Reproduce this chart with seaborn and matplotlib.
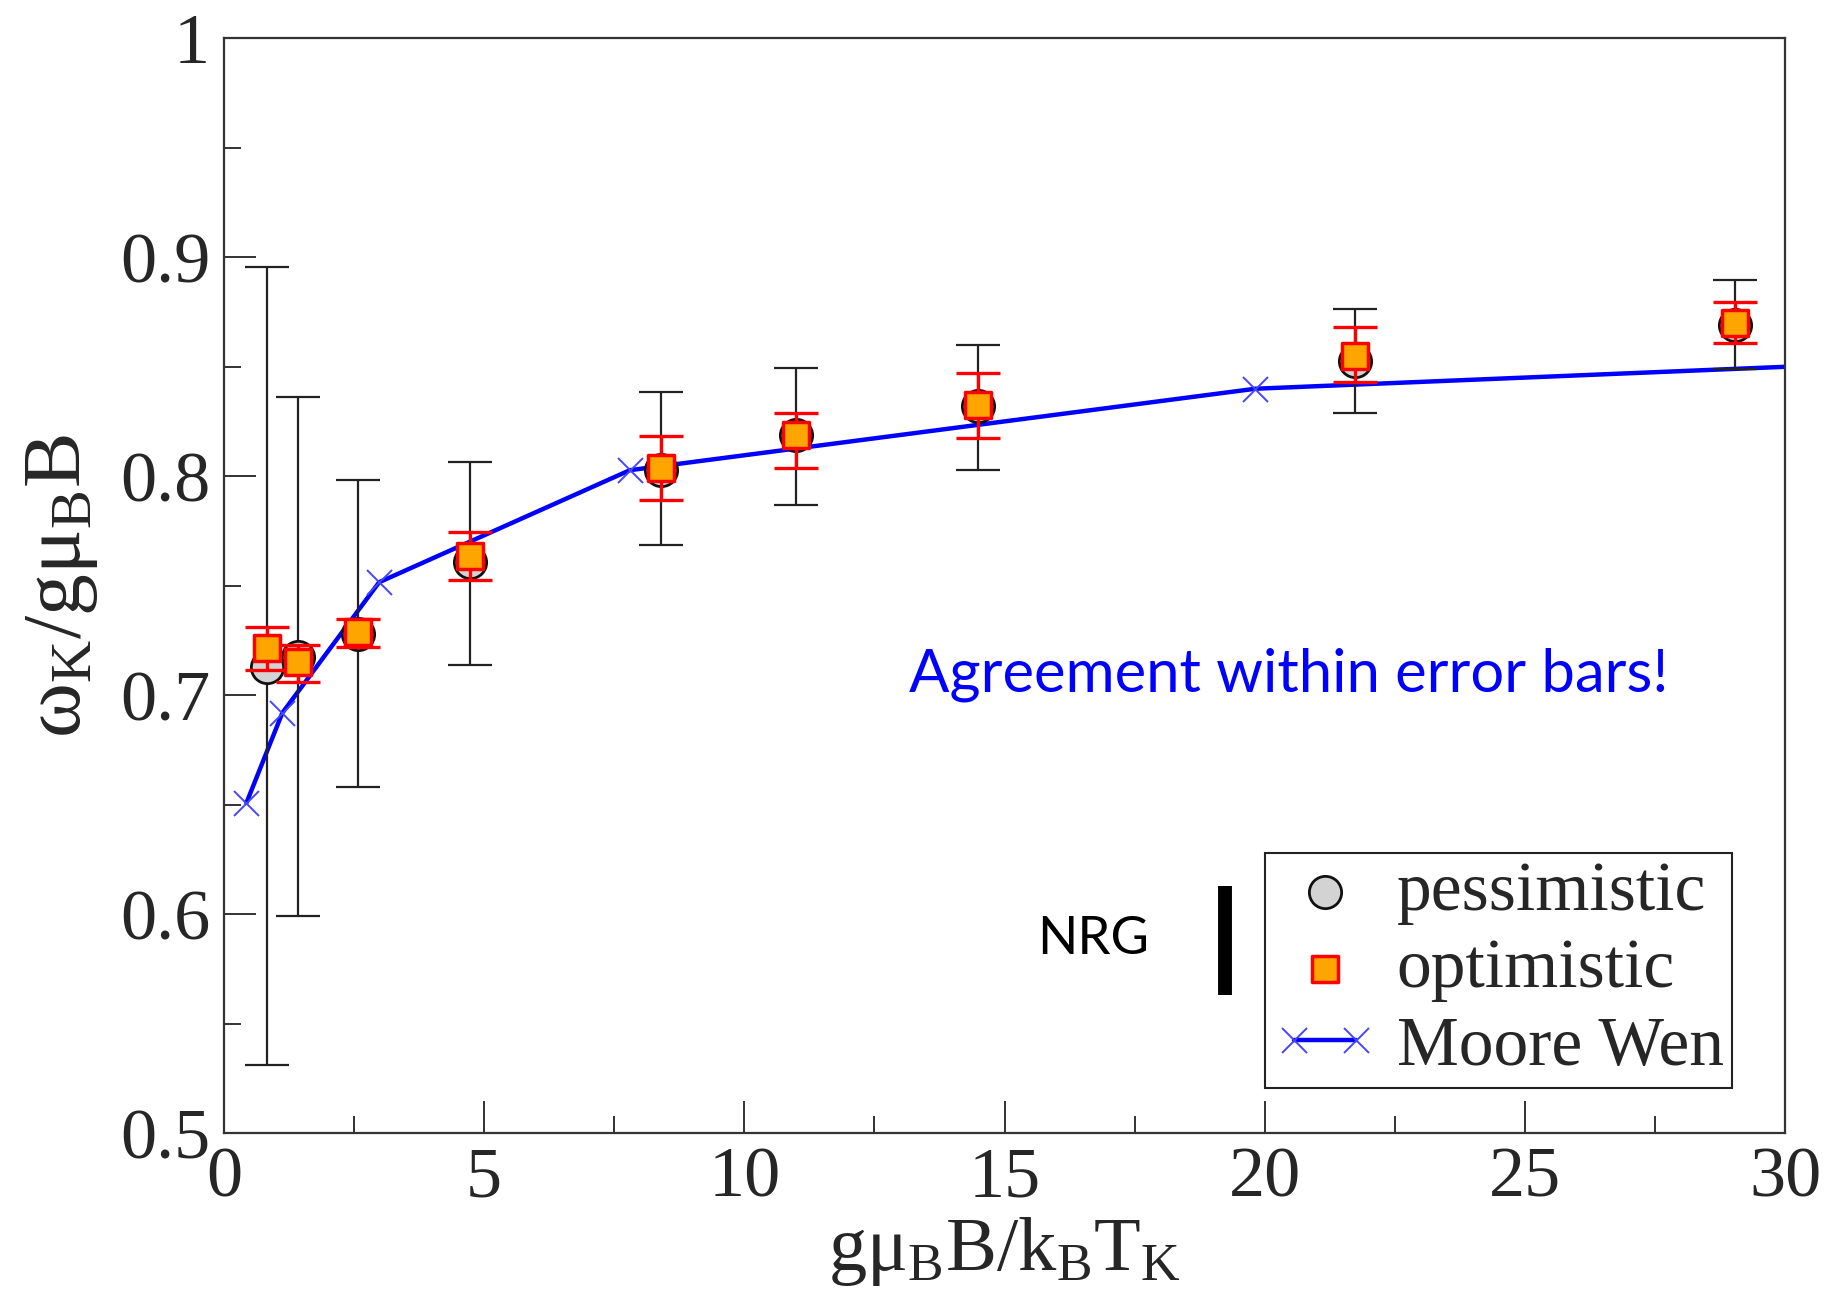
import numpy as np
import pandas as pd
import matplotlib
matplotlib.use("Agg")
import matplotlib.pyplot as plt
import seaborn as sns
from matplotlib.legend_handler import HandlerLine2D
from matplotlib.ticker import MultipleLocator

# NRG, pessimistic estimate (circles, black error bars)
pes_x = [0.83, 1.43, 2.58, 4.73, 8.39, 11.0, 14.48, 21.73, 29.04]
pes_y = [0.713, 0.7175, 0.728, 0.761, 0.803, 0.8188, 0.832, 0.8529, 0.8689]
pes_lo = [0.531, 0.599, 0.658, 0.714, 0.7687, 0.7868, 0.803, 0.829, 0.849]
pes_hi = [0.8955, 0.836, 0.7985, 0.8065, 0.8385, 0.8497, 0.860, 0.8763, 0.8897]

# NRG, optimistic estimate (squares, red error bars)
opt_y = [0.7215, 0.715, 0.729, 0.7635, 0.8038, 0.819, 0.8326, 0.855, 0.870]
opt_lo = [0.7116, 0.706, 0.722, 0.7527, 0.7893, 0.804, 0.8177, 0.843, 0.8609]
opt_hi = [0.7313, 0.7228, 0.735, 0.7746, 0.8183, 0.829, 0.847, 0.868, 0.8797]

# Moore Wen
mw_x = [0.43, 1.12, 2.98, 7.80, 19.82, 31.5]
mw_y = [0.6508, 0.6919, 0.7516, 0.8028, 0.840, 0.8515]

df = pd.DataFrame({"x": pes_x, "pes": pes_y, "opt": opt_y})
mw = pd.DataFrame({"x": mw_x, "y": mw_y})

sns.set_style("white")
plt.rcParams["font.family"] = ["Liberation Serif", "DejaVu Serif"]
plt.rcParams["mathtext.fontset"] = "custom"
plt.rcParams["mathtext.rm"] = "Liberation Serif"
plt.rcParams["mathtext.it"] = "Liberation Serif"
plt.rcParams["mathtext.bf"] = "Liberation Serif"

fig, ax = plt.subplots(figsize=(18.29, 13.05), dpi=100)
fig.subplots_adjust(left=0.1225, right=0.976, bottom=0.1318, top=0.9705)

sns.lineplot(data=mw, x="x", y="y", ax=ax, color="#0000ff", lw=3.2,
             marker="x", markersize=18, markeredgewidth=1.4,
             markeredgecolor="#4545ff", label="Moore Wen", zorder=2)

ax.errorbar(df["x"], df["pes"],
            yerr=[df["pes"] - np.array(pes_lo), np.array(pes_hi) - df["pes"]],
            fmt="none", ecolor="#222222", elinewidth=1.6, capsize=16, capthick=1.6, zorder=3)
sns.scatterplot(data=df, x="x", y="pes", ax=ax, s=540, color="#d3d3d3",
                edgecolor="#111111", linewidth=2, label="pessimistic", zorder=4)

ax.errorbar(df["x"], df["opt"],
            yerr=[df["opt"] - np.array(opt_lo), np.array(opt_hi) - df["opt"]],
            fmt="none", ecolor="#ff0000", elinewidth=2.4, capsize=16, capthick=2.4, zorder=5)
sns.scatterplot(data=df, x="x", y="opt", ax=ax, s=330, marker="s", color="#ffa500",
                edgecolor="#ff0000", linewidth=2.5, label="optimistic", zorder=6)

ax.set_xlim(0, 30)
ax.set_ylim(0.5, 1.0)
ax.xaxis.set_major_locator(MultipleLocator(5))
ax.xaxis.set_minor_locator(MultipleLocator(2.5))
ax.set_yticks([0.5, 0.6, 0.7, 0.8, 0.9, 1.0])
ax.set_yticklabels(["0.5", "0.6", "0.7", "0.8", "0.9", "1"])
ax.yaxis.set_minor_locator(MultipleLocator(0.05))
ax.tick_params(which="both", direction="in", bottom=True, left=True, top=False, right=False,
               labelsize=52, width=1.3, color="#222222", pad=10)
ax.tick_params(which="major", length=23)
ax.tick_params(which="minor", length=12)
for s in ax.spines.values():
    s.set_color("#333333")
    s.set_linewidth(1.6)

ax.set_xlabel(r"$\mathrm{g\mu_B B/k_B T_K}$", fontsize=55, labelpad=2)
ax.set_ylabel(r"$\mathrm{\omega_K/g\mu_B B}$", fontsize=60, labelpad=14)

handles, labels = ax.get_legend_handles_labels()
order = [labels.index("pessimistic"), labels.index("optimistic"), labels.index("Moore Wen")]
handles = [handles[i] for i in order]
labels = [labels[i] for i in order]
leg = ax.legend(handles, labels, loc="lower right", bbox_to_anchor=(0.966, 0.041),
                borderaxespad=0, fontsize=50, frameon=True, fancybox=False,
                edgecolor="#222222", framealpha=1, handlelength=1.5, handletextpad=0.28,
                labelspacing=0.2, borderpad=0.12, scatterpoints=1,
                handler_map={handles[2]: HandlerLine2D(numpoints=2)})
leg.get_frame().set_linewidth(1.5)

ax.text(0.557, 0.177, "NRG", transform=ax.transAxes, fontsize=38, family="Lato",
        ha="center", va="center", color="black")
ax.plot([0.641, 0.641], [0.126, 0.2257], transform=ax.transAxes, color="black",
        lw=10, solid_capstyle="butt")
ax.text(0.682, 0.419, "Agreement within error bars!", transform=ax.transAxes,
        fontsize=43, family="Lato", ha="center", va="center", color="#0000ff")

fig.savefig("out.png", dpi=100)
